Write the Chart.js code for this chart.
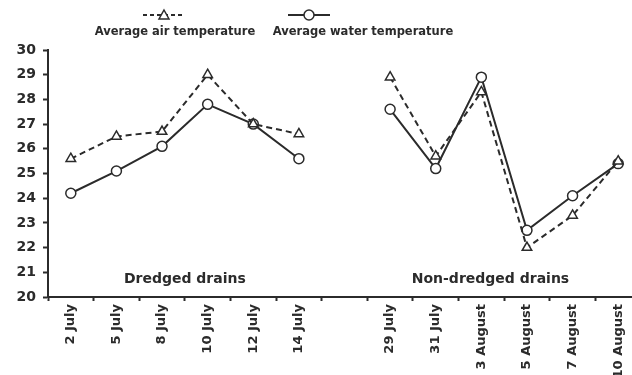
<!DOCTYPE html>
<html>
<head>
<meta charset="utf-8">
<script src="https://cdn.jsdelivr.net/npm/chart.js@4"></script>
<style>
  html, body { margin: 0; padding: 0; background: #fff; overflow: hidden; }
  #wrap { width: 700px; height: 375px; position: relative; }
</style>
</head>
<body>
<div id="wrap"><canvas id="c"></canvas></div>
<script>
// Sampling dates; the empty entry separates the two drain groups
const dates = ['2 July', '5 July', '8 July', '10 July', '12 July', '14 July', '',
               '29 July', '31 July', '3 August', '5 August', '7 August', '10 August'];
// Average air temperature (°C)
const airTemp = [25.6, 26.5, 26.7, 29.0, 27.0, 26.6, null,
                 28.9, 25.7, 28.3, 22.0, 23.3, 25.5];
// Average water temperature (°C)
const waterTemp = [24.2, 25.1, 26.1, 27.8, 27.0, 25.6, null,
                   27.6, 25.2, 28.9, 22.7, 24.1, 25.4];
const yTicks = [20, 21, 22, 23, 24, 25, 26, 27, 28, 29, 30];
const groupNames = ['Dredged drains', 'Non-dredged drains'];

const INK = '#2b2b2b';
const FONT = '"DejaVu Sans", sans-serif';

const overlay = {
  id: 'overlay',
  afterDraw(chart) {
    const ctx = chart.ctx;
    const x = chart.scales.x, y = chart.scales.y;
    ctx.save();
    ctx.fillStyle = INK;
    ctx.textAlign = 'center';
    ctx.textBaseline = 'middle';
    // group captions
    ctx.font = 'bold 14px ' + FONT;
    ctx.fillText(groupNames[0], x.getPixelForValue(2.5), y.getPixelForValue(20.7));
    ctx.fillText(groupNames[1], x.getPixelForValue(9.2), y.getPixelForValue(20.7));

    // legend: symbol above its caption
    ctx.strokeStyle = INK;
    ctx.lineWidth = 2;
    ctx.setLineDash([4, 3]);
    ctx.beginPath(); ctx.moveTo(143, 15); ctx.lineTo(185, 15); ctx.stroke();
    ctx.setLineDash([]);
    ctx.beginPath(); ctx.moveTo(288, 15); ctx.lineTo(330, 15); ctx.stroke();
    ctx.lineWidth = 1.5;
    ctx.fillStyle = '#fff';
    ctx.beginPath(); ctx.moveTo(164, 10); ctx.lineTo(169, 19); ctx.lineTo(159, 19); ctx.closePath();
    ctx.fill(); ctx.stroke();
    ctx.beginPath(); ctx.arc(309, 15, 5, 0, Math.PI * 2); ctx.fill(); ctx.stroke();
    ctx.fillStyle = INK;
    ctx.font = 'bold 11.5px ' + FONT;
    ctx.fillText(chart.data.datasets[0].label, 175, 32);
    ctx.fillText(chart.data.datasets[1].label, 363, 32);
    ctx.restore();
  }
};

new Chart(document.getElementById('c'), {
  type: 'line',
  data: {
    labels: dates,
    datasets: [
      {
        label: 'Average air temperature',
        data: airTemp,
        borderColor: INK,
        borderWidth: 2,
        borderDash: [6, 4],
        pointStyle: 'triangle',
        pointRadius: 5.5,
        pointBorderWidth: 1.5,
        pointBackgroundColor: '#fff',
        pointBorderColor: INK,
        spanGaps: false,
        tension: 0
      },
      {
        label: 'Average water temperature',
        data: waterTemp,
        borderColor: INK,
        borderWidth: 2,
        pointStyle: 'circle',
        pointRadius: 5,
        pointBorderWidth: 1.5,
        pointBackgroundColor: '#fff',
        pointBorderColor: INK,
        spanGaps: false,
        tension: 0
      }
    ]
  },
  options: {
    responsive: true,
    maintainAspectRatio: false,
    devicePixelRatio: 1,
    animation: false,
    layout: { padding: { top: 50, right: 59, left: 0, bottom: 0 } },
    plugins: { legend: { display: false }, tooltip: { enabled: false } },
    scales: {
      x: {
        type: 'category',
        offset: true,
        afterFit(s) { s.height = 78; },
        border: { color: INK, width: 2 },
        grid: { offset: true, drawOnChartArea: false, tickLength: 4, color: INK, tickWidth: 2 },
        ticks: {
          autoSkip: false, minRotation: 90, maxRotation: 90, padding: 3,
          color: INK, font: { family: FONT, size: 13, weight: 'bold' }
        }
      },
      y: {
        min: 20, max: 30,
        afterFit(s) { s.width = 48; },
        afterBuildTicks(s) { s.ticks = yTicks.map(v => ({ value: v })); },
        border: { color: INK, width: 2 },
        grid: { drawOnChartArea: false, tickLength: 5, color: INK, tickWidth: 2 },
        ticks: {
          padding: 7, color: INK,
          font: { family: FONT, size: 14, weight: 'bold' }
        }
      }
    }
  },
  plugins: [overlay]
});
</script>
</body>
</html>
